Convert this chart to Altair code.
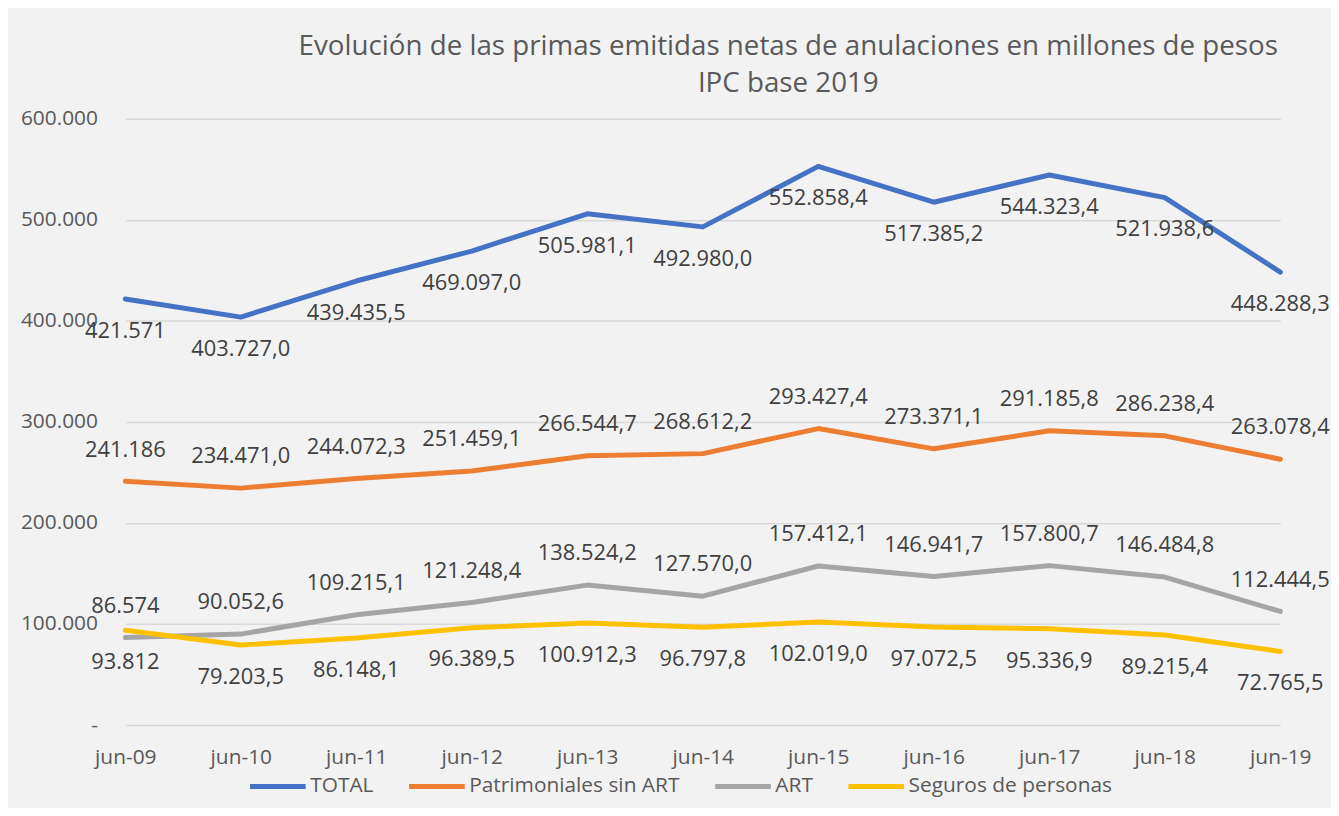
import altair as alt
import pandas as pd

periods = ["jun-09", "jun-10", "jun-11", "jun-12", "jun-13", "jun-14",
           "jun-15", "jun-16", "jun-17", "jun-18", "jun-19"]
series_names = ["TOTAL", "Patrimoniales sin ART", "ART", "Seguros de personas"]
series_colors = ["#4472C4", "#ED7D31", "#A5A5A5", "#FFC000"]

total = [421571, 403727.0, 439435.5, 469097.0, 505981.1, 492980.0,
         552858.4, 517385.2, 544323.4, 521938.6, 448288.3]
patrimoniales = [241186, 234471.0, 244072.3, 251459.1, 266544.7, 268612.2,
                 293427.4, 273371.1, 291185.8, 286238.4, 263078.4]
art = [86574, 90052.6, 109215.1, 121248.4, 138524.2, 127570.0,
       157412.1, 146941.7, 157800.7, 146484.8, 112444.5]
seguros = [93812, 79203.5, 86148.1, 96389.5, 100912.3, 96797.8,
           102019.0, 97072.5, 95336.9, 89215.4, 72765.5]

label_above = {"TOTAL": False, "Patrimoniales sin ART": True,
               "ART": True, "Seguros de personas": False}


def es_format(v, dec):
    s = f"{v:,.{dec}f}"
    return s.replace(",", "X").replace(".", ",").replace("X", ".")


rows = []
for name, vals in zip(series_names, [total, patrimoniales, art, seguros]):
    for i, (p, v) in enumerate(zip(periods, vals)):
        rows.append({"period": p, "series": name, "value": v,
                     "label": es_format(v, 0 if i == 0 else 1),
                     "above": label_above[name]})
df = pd.DataFrame(rows)

FONT = "Open Sans"

x_enc = alt.X("period:N", sort=periods, title=None,
              scale=alt.Scale(type="point", padding=0),
              axis=alt.Axis(labelAngle=0, ticks=False, domain=False, grid=False,
                            labelPadding=22, labelFontSize=21, labelColor="#595959",
                            labelFont=FONT))
y_enc = alt.Y("value:Q", title=None,
              scale=alt.Scale(domain=[0, 600000], nice=False),
              axis=alt.Axis(values=[0, 100000, 200000, 300000, 400000, 500000, 600000],
                            labelExpr="datum.value == 0 ? '-' : replace(format(datum.value, ',.0f'), ',', '.')",
                            ticks=False, domain=False, gridColor="#D9D9D9", gridWidth=1.5,
                            labelPadding=28, labelFontSize=21, labelColor="#595959",
                            labelFont=FONT))

color_enc = alt.Color("series:N",
                      scale=alt.Scale(domain=series_names, range=series_colors),
                      legend=alt.Legend(orient="none", legendX=123, legendY=641,
                                        direction="horizontal", title=None,
                                        symbolType="stroke", symbolSize=3136,
                                        symbolStrokeWidth=5, labelFontSize=21,
                                        labelColor="#595959", labelFont=FONT,
                                        labelLimit=0,
                                        columnPadding=25, labelOffset=2, padding=0))

base = alt.Chart(df)

lines = base.mark_line(strokeWidth=5, strokeCap="round", strokeJoin="round").encode(
    x=x_enc, y=y_enc, color=color_enc,
    order=alt.Order("period:N"))

labels_above = base.transform_filter("datum.above").mark_text(
    dy=-32, fontSize=22, font=FONT, color="#404040", baseline="middle").encode(
    x=alt.X("period:N", sort=periods), y="value:Q", text="label:N")

labels_below = base.transform_filter("!datum.above").mark_text(
    dy=32, fontSize=22, font=FONT, color="#404040", baseline="middle").encode(
    x=alt.X("period:N", sort=periods), y="value:Q", text="label:N")

chart = alt.layer(lines, labels_above, labels_below).properties(
    width=1162, height=610,
    title=alt.TitleParams(
        ["Evolución de las primas emitidas netas de anulaciones en millones de pesos",
         "IPC base 2019"],
        fontSize=27.9, font=FONT, fontWeight="normal", color="#595959",
        anchor="middle", dx=86, lineHeight=37, offset=10),
    autosize=alt.AutoSizeParams(type="none"),
    padding={"left": 118, "top": 109, "right": 51, "bottom": 81},
    background="#F2F2F2",
).configure_view(stroke=None)

chart.save("out.html", embed_options={"renderer": "svg", "actions": False})
